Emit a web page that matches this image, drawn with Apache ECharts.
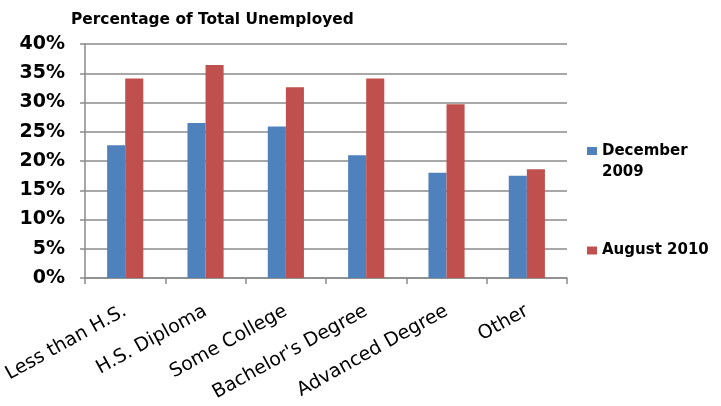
<!DOCTYPE html>
<html>
<head>
<meta charset="utf-8">
<script src="https://cdn.jsdelivr.net/npm/echarts@6/dist/echarts.min.js"></script>
<style>html,body{margin:0;padding:0;background:#fff;}#c{width:721px;height:406px;}</style>
</head>
<body>
<div id="c"></div>
<script>
var categories = ['Less than H.S.', 'H.S. Diploma', 'Some College', "Bachelor's Degree", 'Advanced Degree', 'Other'];
var dec2009 = [22.7, 26.5, 25.9, 21.0, 18.0, 17.5];
var aug2010 = [34.1, 36.4, 32.6, 34.1, 29.7, 18.6];
var seriesNames = ['December 2009', 'August 2010'];
var yTicks = { min: 0, max: 40, interval: 5 };

var chart = echarts.init(document.getElementById('c'));
var font = 'DejaVu Sans';
chart.setOption({
  animation: false,
  title: {
    text: 'Percentage of Total Unemployed',
    left: 66, top: 7,
    textStyle: { fontFamily: font, fontWeight: 'bold', fontSize: 15.4, color: '#000' }
  },
  legend: [
    {
      data: [seriesNames[0]],
      left: 582, top: 136,
      orient: 'vertical',
      icon: 'path://M0,0L10,0L10,8L0,8Z M0,30L0.01,30L0.01,30.01Z',
      itemWidth: 10, itemHeight: 30, itemGap: 5,
      formatter: function () { return 'December\n2009'; },
      textStyle: { fontFamily: font, fontWeight: 'bold', fontSize: 15, color: '#000', lineHeight: 21 }
    },
    {
      data: [seriesNames[1]],
      left: 582, top: 238,
      orient: 'vertical',
      icon: 'rect', itemWidth: 10, itemHeight: 8, itemGap: 5,
      textStyle: { fontFamily: font, fontWeight: 'bold', fontSize: 15, color: '#000' }
    }
  ],
  grid: { left: 83, right: 154, top: 44, bottom: 128 },
  xAxis: {
    type: 'category',
    data: categories,
    axisLine: { lineStyle: { color: '#8a8a8a', width: 1.5 } },
    axisTick: { show: true, length: 6, lineStyle: { color: '#8a8a8a', width: 1.5 } },
    axisLabel: { rotate: 29, margin: 32, interval: 0, fontFamily: font, fontSize: 19, color: '#000' }
  },
  yAxis: {
    type: 'value',
    min: yTicks.min, max: yTicks.max, interval: yTicks.interval,
    axisLine: { show: true, lineStyle: { color: '#8a8a8a', width: 1.5 } },
    axisTick: { show: true, length: 5, lineStyle: { color: '#8a8a8a', width: 1.5 } },
    splitLine: { lineStyle: { color: '#8a8a8a', width: 1.5 } },
    axisLabel: { formatter: '{value}%', margin: 20, fontFamily: font, fontWeight: 'bold', fontSize: 19, color: '#000' }
  },
  series: [
    { name: seriesNames[0], type: 'bar', data: dec2009, barGap: '0%', barCategoryGap: '55%', itemStyle: { color: '#4F81BD' } },
    { name: seriesNames[1], type: 'bar', data: aug2010, barGap: '0%', barCategoryGap: '55%', itemStyle: { color: '#C0504D' } }
  ]
});
</script>
</body>
</html>
